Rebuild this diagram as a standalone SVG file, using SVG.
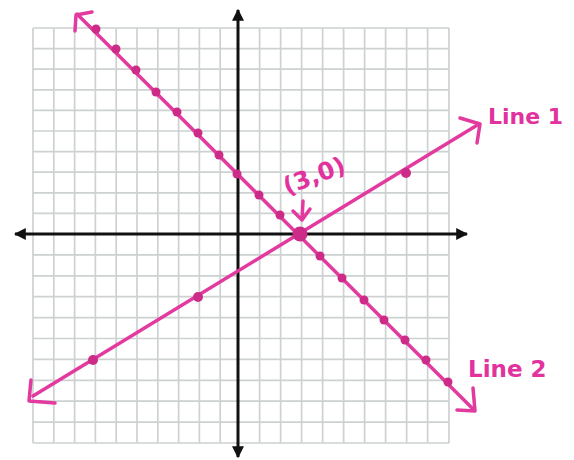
<svg xmlns="http://www.w3.org/2000/svg" width="574" height="460" viewBox="0 0 574 460">
<style>
.grid line{stroke:#cdd1d1;stroke-width:1.7}
.axis{stroke:#111;stroke-width:3;fill:none}
.pline{stroke:#e23a9f;stroke-width:3.5;fill:none;stroke-linecap:round;stroke-linejoin:round}
.dot{fill:#cc2c88}
.lbl{fill:#e2329e;font-family:"DejaVu Sans","Liberation Sans",sans-serif;font-weight:bold}
</style>
<defs>
<marker id="ah" viewBox="0 0 10 10" refX="9" refY="5" markerWidth="4" markerHeight="4" orient="auto-start-reverse" markerUnits="strokeWidth">
<path d="M0,0 L10,5 L0,10 z" fill="#111"/>
</marker>
</defs>
<rect width="574" height="460" fill="#fff"/>
<g id="grid" class="grid">
<line x1="33" y1="28" x2="33" y2="443"/><line x1="53.8" y1="28" x2="53.8" y2="443"/><line x1="74.6" y1="28" x2="74.6" y2="443"/><line x1="95.4" y1="28" x2="95.4" y2="443"/><line x1="116.2" y1="28" x2="116.2" y2="443"/><line x1="137" y1="28" x2="137" y2="443"/><line x1="157.8" y1="28" x2="157.8" y2="443"/><line x1="178.6" y1="28" x2="178.6" y2="443"/><line x1="199.4" y1="28" x2="199.4" y2="443"/><line x1="220.2" y1="28" x2="220.2" y2="443"/><line x1="238" y1="28" x2="238" y2="443"/><line x1="259.6" y1="28" x2="259.6" y2="443"/><line x1="280.6" y1="28" x2="280.6" y2="443"/><line x1="301.6" y1="28" x2="301.6" y2="443"/><line x1="322.6" y1="28" x2="322.6" y2="443"/><line x1="343.6" y1="28" x2="343.6" y2="443"/><line x1="364.6" y1="28" x2="364.6" y2="443"/><line x1="385.6" y1="28" x2="385.6" y2="443"/><line x1="406.6" y1="28" x2="406.6" y2="443"/><line x1="427.6" y1="28" x2="427.6" y2="443"/><line x1="449" y1="28" x2="449" y2="443"/>
<line x1="33" y1="28" x2="449" y2="28"/><line x1="33" y1="48.6" x2="449" y2="48.6"/><line x1="33" y1="69.2" x2="449" y2="69.2"/><line x1="33" y1="89.8" x2="449" y2="89.8"/><line x1="33" y1="110.4" x2="449" y2="110.4"/><line x1="33" y1="131" x2="449" y2="131"/><line x1="33" y1="151.6" x2="449" y2="151.6"/><line x1="33" y1="172.2" x2="449" y2="172.2"/><line x1="33" y1="192.8" x2="449" y2="192.8"/><line x1="33" y1="213.4" x2="449" y2="213.4"/><line x1="33" y1="234" x2="449" y2="234"/><line x1="33" y1="254.9" x2="449" y2="254.9"/><line x1="33" y1="275.8" x2="449" y2="275.8"/><line x1="33" y1="296.7" x2="449" y2="296.7"/><line x1="33" y1="317.6" x2="449" y2="317.6"/><line x1="33" y1="338.5" x2="449" y2="338.5"/><line x1="33" y1="359.4" x2="449" y2="359.4"/><line x1="33" y1="380.3" x2="449" y2="380.3"/><line x1="33" y1="401.2" x2="449" y2="401.2"/><line x1="33" y1="422.1" x2="449" y2="422.1"/><line x1="33" y1="443" x2="449" y2="443"/>
</g>
<g id="connectors">
<line id="x-axis" class="axis" x1="15" y1="234" x2="467" y2="234" marker-start="url(#ah)" marker-end="url(#ah)"/>
<line id="y-axis" class="axis" x1="238" y1="10" x2="238" y2="457" marker-start="url(#ah)" marker-end="url(#ah)"/>
<g id="line2">
<path class="pline" d="M77,14 L473,409"/>
<path class="pline" d="M92,12 L76,15 L75,31"/>
<path class="pline" d="M457,410 L475,411 L473,388"/>
</g>
<g id="line1">
<path class="pline" d="M33,396 L479,124"/>
<path class="pline" d="M31,380 L29,401 L55,403"/>
<path class="pline" d="M460,118 L480,124 L477,143"/>
</g>
<path id="pointer" class="pline" d="M303,201 L302,220 M293,211 L302,220 L310,209" stroke-width="3"/>
</g>
<g id="dots">
<circle class="dot" cx="96" cy="29" r="4.5"/>
<circle class="dot" cx="116" cy="49" r="4.5"/>
<circle class="dot" cx="136" cy="70" r="4.5"/>
<circle class="dot" cx="156" cy="92" r="4.5"/>
<circle class="dot" cx="177" cy="112" r="4.5"/>
<circle class="dot" cx="198" cy="133" r="4.5"/>
<circle class="dot" cx="219" cy="155" r="4.5"/>
<circle class="dot" cx="237" cy="174" r="4.5"/>
<circle class="dot" cx="259" cy="195" r="4.5"/>
<circle class="dot" cx="280" cy="215" r="4.5"/>
<circle class="dot" cx="320" cy="256" r="4.5"/>
<circle class="dot" cx="342" cy="278" r="4.5"/>
<circle class="dot" cx="364" cy="300" r="4.5"/>
<circle class="dot" cx="384" cy="320" r="4.5"/>
<circle class="dot" cx="405" cy="340" r="4.5"/>
<circle class="dot" cx="426" cy="360" r="4.5"/>
<circle class="dot" cx="448" cy="382" r="4.5"/>
<circle class="dot" cx="93" cy="360" r="5"/>
<circle class="dot" cx="198" cy="297" r="5"/>
<circle class="dot" cx="406" cy="173" r="5"/>
<circle id="intersection" class="dot" cx="300" cy="234" r="7.5"/>
</g>
<g id="labels">
<text id="pt-label" class="lbl" font-size="24" transform="translate(287,195) rotate(-21)">(3,0)</text>
<text id="line1-label" class="lbl" x="488" y="124" font-size="22">Line 1</text>
<text id="line2-label" class="lbl" x="468" y="377" font-size="23">Line 2</text>
</g>
</svg>
